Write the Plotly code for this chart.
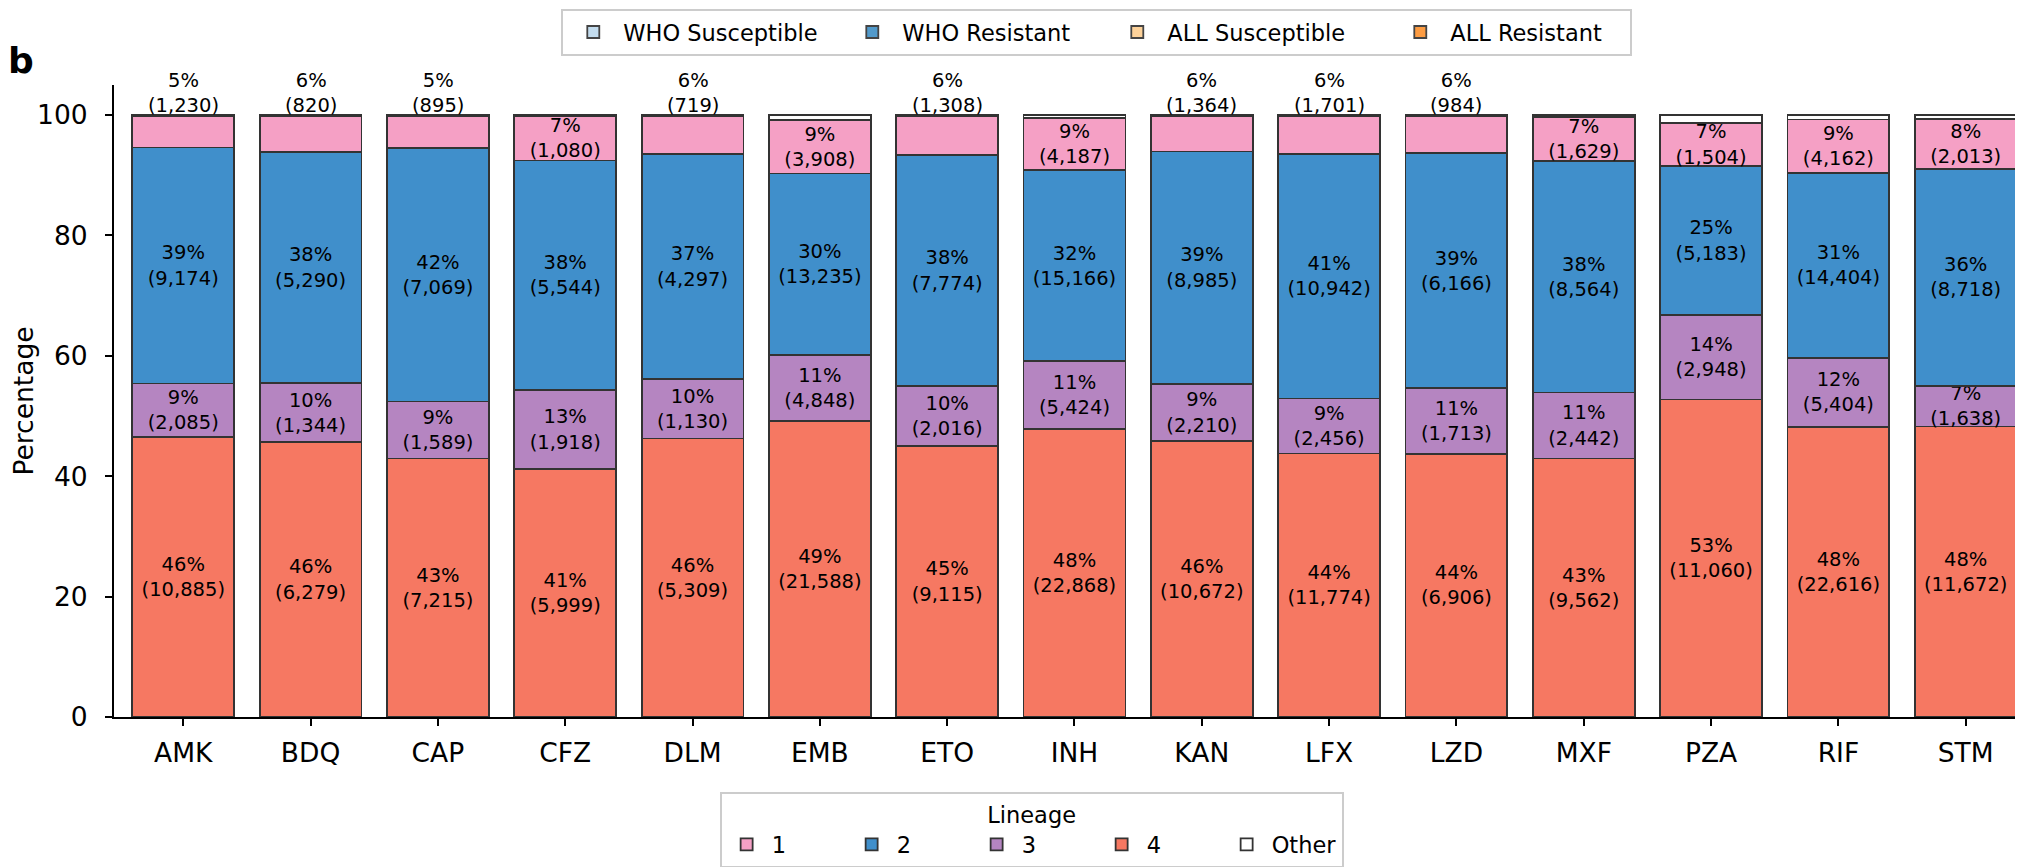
import plotly.graph_objects as go

drugs = ["AMK", "BDQ", "CAP", "CFZ", "DLM", "EMB", "ETO", "INH", "KAN", "LFX", "LZD", "MXF", "PZA", "RIF", "STM"]

l4_counts = [10885, 6279, 7215, 5999, 5309, 21588, 9115, 22868, 10672, 11774, 6906, 9562, 11060, 22616, 11672]
l3_counts = [2085, 1344, 1589, 1918, 1130, 4848, 2016, 5424, 2210, 2456, 1713, 2442, 2948, 5404, 1638]
l2_counts = [9174, 5290, 7069, 5544, 4297, 13235, 7774, 15166, 8985, 10942, 6166, 8564, 5183, 14404, 8718]
l1_counts = [1230, 820, 895, 1080, 719, 3908, 1308, 4187, 1364, 1701, 984, 1629, 1504, 4162, 2013]
other_counts = [30, 20, 25, 20, 15, 360, 25, 200, 40, 25, 15, 70, 270, 350, 145]

l4_pct = [46, 46, 43, 41, 46, 49, 45, 48, 46, 44, 44, 43, 53, 48, 48]
l3_pct = [9, 10, 9, 13, 10, 11, 10, 11, 9, 9, 11, 11, 14, 12, 7]
l2_pct = [39, 38, 42, 38, 37, 30, 38, 32, 39, 41, 39, 38, 25, 31, 36]
l1_pct = [5, 6, 5, 7, 6, 9, 6, 9, 6, 6, 6, 7, 7, 9, 8]

y_ticks = [0, 20, 40, 60, 80, 100]

top_legend_names = ["WHO Susceptible", "WHO Resistant", "ALL Susceptible", "ALL Resistant"]
top_legend_colors = ["#C3DCEE", "#529ACB", "#FDD29A", "#FD9C42"]
top_legend_widths = [214, 200, 218, 175]

EDGE = "#333333"
FONT = "DejaVu Sans"
LABEL_SIZE = 19.5
LEGEND_SIZE = 22.5
TICK_SIZE = 26.5

totals = [a + b + c + d + e for a, b, c, d, e in zip(l4_counts, l3_counts, l2_counts, l1_counts, other_counts)]


def share(counts):
    return [100.0 * c / t for c, t in zip(counts, totals)]


fig = go.Figure()

series = [
    ("4", l4_counts, l4_pct, "#F67862", 4),
    ("3", l3_counts, l3_pct, "#B585C1", 3),
    ("2", l2_counts, l2_pct, "#408FCB", 2),
    ("1", l1_counts, l1_pct, "#F5A0C5", 1),
]

small = {}
for name, counts, pcts, color, rank in series:
    ys = share(counts)
    texts = []
    for drug, c, p, v in zip(drugs, counts, pcts, ys):
        label = f"{p}%<br>({c:,})"
        if v < 6.5:
            texts.append("")
            small[drug] = label
        else:
            texts.append(label)
    fig.add_trace(go.Bar(
        x=drugs, y=ys, name=name, legend="legend", legendrank=rank,
        marker=dict(color=color, line=dict(color=EDGE, width=1.8)),
        text=texts, textposition="inside", insidetextanchor="middle",
        constraintext="none", textangle=0,
        insidetextfont=dict(family=FONT, size=LABEL_SIZE, color="black"),
        hoverinfo="skip", legendwidth=70,
    ))

fig.add_trace(go.Bar(
    x=drugs, y=share(other_counts), name="Other", legend="legend", legendrank=5,
    marker=dict(color="white", line=dict(color=EDGE, width=1.8)),
    hoverinfo="skip",
))

# dummy traces for top legend
for nm, col, w in zip(top_legend_names, top_legend_colors, top_legend_widths):
    fig.add_trace(go.Bar(
        x=[drugs[0]], y=[None], name=nm, legend="legend2",
        marker=dict(color=col, line=dict(color="#444444", width=1.8)),
        legendwidth=w, hoverinfo="skip",
    ))

# labels above bars for thin lineage-1 segments
stack_top = [100.0 * t / t for t in totals]
for drug, top in zip(drugs, stack_top):
    if drug in small:
        fig.add_annotation(
            x=drug, y=top, xref="x", yref="y", text=small[drug], showarrow=False,
            yanchor="bottom", xanchor="center",
            font=dict(family=FONT, size=LABEL_SIZE, color="black"),
            yshift=-4,
        )

fig.add_annotation(
    text="<b>b</b>", xref="paper", yref="paper", x=-0.0568, y=1.075,
    xanchor="left", yanchor="top", showarrow=False,
    font=dict(family=FONT, size=36, color="black"),
)

fig.update_layout(
    width=2023, height=867,
    margin=dict(l=106, r=8, t=77, b=158, autoexpand=False),
    barmode="stack", bargap=0.2,
    plot_bgcolor="white", paper_bgcolor="white",
    font=dict(family=FONT, color="black"),
    xaxis=dict(
        range=[-0.544, 14.45], showline=True, linecolor="black", linewidth=2,
        ticks="outside", ticklen=7, tickwidth=2, tickcolor="black", automargin=False,
        tickfont=dict(size=TICK_SIZE), showgrid=False, zeroline=False, ticklabelstandoff=4,
    ),
    yaxis=dict(
        range=[0, 105], tickvals=y_ticks, showline=True, linecolor="black", linewidth=2,
        ticks="outside", ticklen=7, tickwidth=2, tickcolor="black", automargin=False,
        tickfont=dict(size=TICK_SIZE), showgrid=False, zeroline=False, ticklabelstandoff=12,
        title=dict(text="Percentage", font=dict(size=TICK_SIZE), standoff=0),
    ),
    legend=dict(
        title=dict(text="Lineage", side="top center", font=dict(size=LEGEND_SIZE)),
        orientation="h", xref="container", yref="container",
        x=0.506, xanchor="center", y=0.0957, yanchor="top",
        font=dict(size=LEGEND_SIZE), bordercolor="#cccccc", borderwidth=2,
        traceorder="normal", itemwidth=40, bgcolor="white",
    ),
    legend2=dict(
        orientation="h", xref="container", yref="container",
        x=0.2735, xanchor="left", y=0.999, yanchor="top",
        font=dict(size=LEGEND_SIZE), bordercolor="#cccccc", borderwidth=2,
        traceorder="normal", itemwidth=50, bgcolor="white",
    ),
)

fig.write_html("out.html")
